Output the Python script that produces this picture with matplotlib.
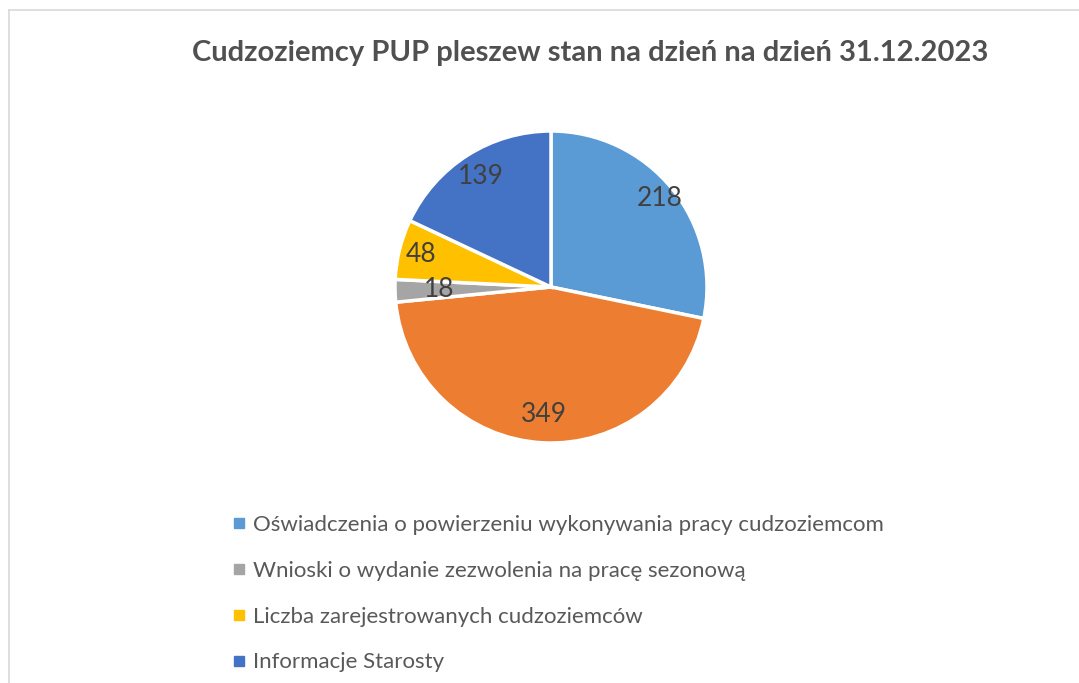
import matplotlib.pyplot as plt
from matplotlib.lines import Line2D

# data
categories = [
    'Oświadczenia o powierzeniu wykonywania pracy cudzoziemcom',
    'Zezwolenia na pracę',
    'Wnioski o wydanie zezwolenia na pracę sezonową',
    'Liczba zarejestrowanych cudzoziemców',
    'Informacje Starosty',
]
values = [218, 349, 18, 48, 139]
colors = ['#5B9BD5', '#ED7D31', '#A5A5A5', '#FFC000', '#4472C4']
# which series appear in the legend (the orange one is not listed)
legend_idx = [0, 2, 3, 4]
label_dist = [0.9, 0.82, 0.72, 0.86, 0.84]

title = 'Cudzoziemcy PUP pleszew stan na dzień na dzień 31.12.2023'

plt.rcParams['font.family'] = ['Lato', 'DejaVu Sans']

fig = plt.figure(figsize=(10.79, 6.83), dpi=100)

# pie axes, centred roughly where Excel put it
W, H = 1079, 683
cx, cy, r = 551, 287, 156
ax = fig.add_axes([(cx - r) / W, (H - cy - r) / H, 2 * r / W, 2 * r / H])
wedges, texts = ax.pie(values, colors=colors, startangle=90, counterclock=False,
                       labels=[str(v) for v in values], labeldistance=0.8,
                       wedgeprops=dict(edgecolor='white', linewidth=2.5),
                       textprops=dict(fontsize=19, color='#404040'))
for t, d in zip(texts, label_dist):
    x, y = t.get_position()
    k = d / 0.8
    t.set_position((x * k, y * k))
    t.set_ha('center')
    t.set_va('center')
ax.set_xlim(-1.0, 1.0)
ax.set_ylim(-1.0, 1.0)
ax.set_aspect('equal')

fig.text(0.547, 0.923, title, ha='center', va='center', fontsize=21,
         fontweight='bold', color='#505050')

handles = [Line2D([], [], marker='s', linestyle='none', markersize=7,
                  color=colors[i]) for i in legend_idx]
fig.legend(handles, [categories[i] for i in legend_idx], loc='upper left',
           bbox_to_anchor=(0.205, 0.262), frameon=False, fontsize=16,
           labelcolor='#595959', handlelength=0.6, handletextpad=0.35,
           labelspacing=1.16, borderpad=0)

# thin chart-area border (only top and left edges visible in the crop)
fig.add_artist(Line2D([9 / W, 1], [1 - 10 / H, 1 - 10 / H], color='#D9D9D9', lw=1.2))
fig.add_artist(Line2D([9 / W, 9 / W], [0, 1 - 10 / H], color='#D9D9D9', lw=1.2))

fig.savefig('out.png', dpi=100, facecolor='white')
